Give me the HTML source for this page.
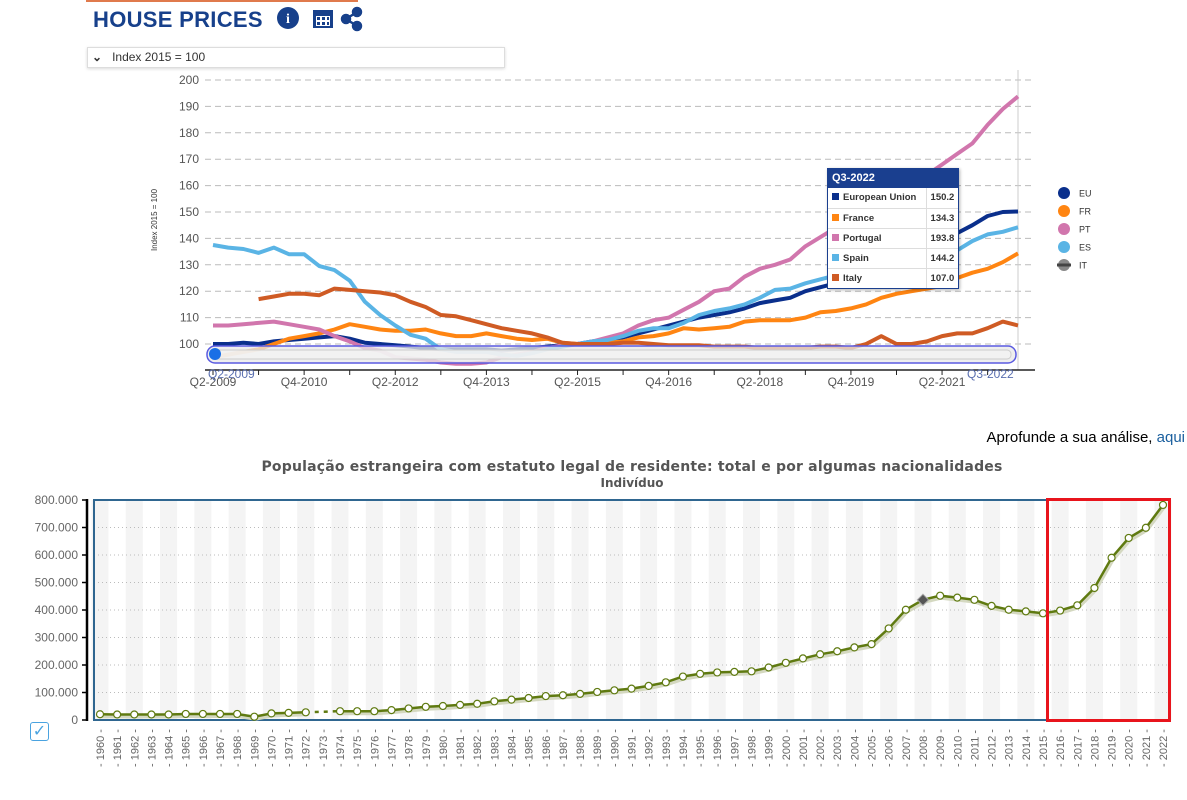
<!DOCTYPE html>
<html><head><meta charset="utf-8"><style>
body{margin:0;width:1187px;height:800px;background:#fff;overflow:hidden;font-family:"Liberation Sans",sans-serif;position:relative}
.abs{position:absolute}
</style></head><body>
<div class="abs" style="left:86px;top:0;width:272px;height:2px;background:#e07a4c"></div>
<div class="abs" style="left:93px;top:7px;font-size:22px;font-weight:bold;color:#17408b;letter-spacing:0.3px">HOUSE PRICES</div>
<svg class="abs" style="left:276px;top:6px" width="90" height="26">
 <g><circle cx="12" cy="12" r="11" fill="#17408b"/><text x="12" y="17" font-size="14" font-weight="bold" fill="#fff" text-anchor="middle" font-family="Liberation Serif">i</text></g>
 <g><rect x="37" y="4" width="20" height="18" fill="#17408b"/><rect x="40" y="10" width="14" height="10" fill="#fff"/><g fill="#17408b"><rect x="41" y="11" width="3" height="3"/><rect x="46" y="11" width="3" height="3"/><rect x="51" y="11" width="2" height="3"/><rect x="41" y="16" width="3" height="3"/><rect x="46" y="16" width="3" height="3"/><rect x="51" y="16" width="2" height="3"/></g></g>
 <g fill="#17408b" stroke="#17408b" stroke-width="2.5"><line x1="70" y1="13" x2="81" y2="6"/><line x1="70" y1="13" x2="81" y2="20"/><circle cx="70" cy="13" r="4"/><circle cx="81" cy="6" r="4"/><circle cx="81" cy="20" r="4"/></g>
</svg>
<div class="abs" style="left:87px;top:47px;width:416px;height:19px;border:1px solid #ddd;box-shadow:0 1px 3px rgba(0,0,0,.15);font-size:12px;color:#333;line-height:19px"><span style="margin-left:4px;font-weight:bold">⌄</span><span style="margin-left:10px">Index 2015 = 100</span></div>

<svg class="abs" id="topchart" style="left:0;top:0" width="1187" height="400"></svg>

<div class="abs" style="z-index:5;left:827px;top:168px;width:130px;border:1px solid #1a3f8f;background:#fff;font-size:10px;font-weight:bold;color:#333;box-shadow:1px 1px 3px rgba(0,0,0,.3)">
 <div style="background:#1a3f8f;color:#fff;height:19px;line-height:19px;padding-left:4px;font-size:11px">Q3-2022</div>
 <table style="border-collapse:collapse;width:100%;font-size:9.5px">
  <tr style="height:20px;border-bottom:1px solid #ddd"><td style="padding-left:4px"><span style="display:inline-block;width:7px;height:7px;background:#0a2f8c;margin-right:4px"></span>European Union</td><td style="border-left:1px solid #ddd;padding-left:4px">150.2</td></tr>
  <tr style="height:20px;border-bottom:1px solid #ddd"><td style="padding-left:4px"><span style="display:inline-block;width:7px;height:7px;background:#ff8512;margin-right:4px"></span>France</td><td style="border-left:1px solid #ddd;padding-left:4px">134.3</td></tr>
  <tr style="height:20px;border-bottom:1px solid #ddd"><td style="padding-left:4px"><span style="display:inline-block;width:7px;height:7px;background:#d176ad;margin-right:4px"></span>Portugal</td><td style="border-left:1px solid #ddd;padding-left:4px">193.8</td></tr>
  <tr style="height:20px;border-bottom:1px solid #ddd"><td style="padding-left:4px"><span style="display:inline-block;width:7px;height:7px;background:#5ab4e5;margin-right:4px"></span>Spain</td><td style="border-left:1px solid #ddd;padding-left:4px">144.2</td></tr>
  <tr style="height:20px"><td style="padding-left:4px"><span style="display:inline-block;width:7px;height:7px;background:#cf5b24;margin-right:4px"></span>Italy</td><td style="border-left:1px solid #ddd;padding-left:4px">107.0</td></tr>
 </table>
</div>

<div class="abs" style="right:2px;top:429px;font-size:15px;color:#000">Aprofunde a sua análise, <span style="color:#1a5f9e">aqui</span></div>
<div class="abs" style="left:0;width:1264px;top:459px;text-align:center;font-size:14px;font-weight:bold;color:#555;font-family:'DejaVu Sans',sans-serif;letter-spacing:0.2px">População estrangeira com estatuto legal de residente: total e por algumas nacionalidades</div>
<div class="abs" style="left:0;width:1264px;top:476px;text-align:center;font-size:12px;font-weight:bold;color:#555;font-family:'DejaVu Sans',sans-serif">Indivíduo</div>
<svg class="abs" id="botchart" style="left:0;top:0" width="1187" height="800"></svg>
<div class="abs" style="left:30px;top:722px;width:17px;height:17px;border:1.5px solid #4aa3e0;border-radius:3px;color:#4aa3e0;font-size:16px;line-height:17px;text-align:center">✓</div>

<script>
const NS='http://www.w3.org/2000/svg';
function mk(p,t,a){const e=document.createElementNS(NS,t);for(const k in a)e.setAttribute(k,a[k]);p.appendChild(e);return e;}

// ---- top chart data ----
const topYTicks=[100,110,120,130,140,150,160,170,180,190,200];
const topXLabels=['Q2-2009','Q4-2010','Q2-2012','Q4-2013','Q2-2015','Q4-2016','Q2-2018','Q4-2019','Q2-2021'];
const seriesEU=[100,100,100.5,100,101,101.5,102,102.5,103,102,100.5,100,99.5,99,98.5,98,98,98,98,97.5,98,98.5,99,99.5,100,101,101.5,102.5,104,105.5,107,108.5,110,111,112,113.5,115.5,116.5,117.5,120,121.5,123,124.5,126,128,130,133,136,139,142,145,148.5,150,150.2];
const seriesFR=[95,96,97,98,100,102,103,104,105.5,107.5,106.5,105.5,105,105,105.5,104,103,103,104,103,102,101.5,102,100.5,100,100.5,100.5,101,102.5,103,104,106,105.5,106,106.5,108.5,109,109,109,110,112,112.5,113.5,115,117.5,119,120,121,122,125,127,128.5,131,134.3];
const seriesPT=[107,107,107.5,108,108.5,107.5,106.5,105.5,103,101,98.5,97.5,95,94.5,94,93,92.5,92.5,93,95,96,97,98.5,99.5,100,101,102.5,104,107,109,110,113,116,120,121,125.5,128.5,130,132,137,140.5,144,147,150,153,157,160,164,168,172,176,183,189,193.8];
const seriesES=[137.5,136.5,136,134.5,136.5,134,134,129.5,128,124,116,111,107,103.5,102,98,97,97,97,96,95.5,96.5,98,99,100,101,101.5,103,105,106,106,108,111,112.5,113.5,115,117.5,120.5,121,123,124.5,126,127.5,128,129,130.5,131,132.5,134,135.5,139,141.5,142.5,144.2];
const seriesIT=[null,null,null,117,118,119,119,118.5,121,120.5,120,119.5,118.5,116,114,111,110.5,109,107.5,106,105,104,102.5,100.5,100,100,100,100.5,100.5,100,99.5,99.5,99.5,99,99,99,98.5,98.5,98.5,98.5,99,99,98.5,100,103,100,100,101,103,104,104,106,108.5,107];
const topSeries=[['eu',seriesEU,'#0a2f8c'],['fr',seriesFR,'#ff8512'],['pt',seriesPT,'#d176ad'],['es',seriesES,'#5ab4e5'],['it',seriesIT,'#cf5b24']];
const legendNames=['EU','FR','PT','ES','IT'];

const topSvg=document.getElementById('topchart');
const tx=i=>213+i*(1018-213)/53;
const ty=v=>344-(v-100)*2.64;
mk(topSvg,'text',{x:157,y:220,transform:'rotate(-90 157 220)','font-size':8,fill:'#333','text-anchor':'middle'}).textContent='Index 2015 = 100';
topYTicks.forEach(v=>{
 const g=mk(topSvg,'line',{x1:205,x2:1035,y1:ty(v),y2:ty(v),stroke:'#bbb','stroke-dasharray':'6,4'});
 
 
 const t=mk(topSvg,'text',{x:199,y:ty(v)+4,'font-size':12,fill:'#555','text-anchor':'end'});
 t.textContent=v;
 
 
});
mk(topSvg,'line',{x1:1018,x2:1018,y1:70,y2:370,stroke:'#ccc'});
mk(topSvg,'line',{x1:205,x2:1035,y1:370,y2:370,stroke:'#222','stroke-width':1.5});
for(let i=0;i<54;i+=3){mk(topSvg,'line',{x1:tx(i),x2:tx(i),y1:370,y2:375,stroke:'#222'});}
topXLabels.forEach((l,k)=>{
 const t=mk(topSvg,'text',{x:tx(k*6),y:386,'font-size':12,fill:'#555','text-anchor':'middle'});
 t.textContent=l;
 
 
});
topSeries.forEach(([n,d,c])=>{
 let p='';let pen=false;
 d.forEach((v,i)=>{if(v==null){pen=false;return;}p+=(pen?'L':'M')+tx(i).toFixed(1)+','+ty(v).toFixed(1);pen=true;});
 const e=mk(topSvg,'path',{d:p,fill:'none',stroke:c,'stroke-width':4,'stroke-linejoin':'round'});
 
 
});
const sb=mk(topSvg,'rect',{x:207,y:346,width:809,height:17,rx:8,fill:'#e8e8e8','fill-opacity':0.75,stroke:'#5a5ae0','stroke-width':1.5});


mk(topSvg,'rect',{x:212,y:350,width:799,height:9,rx:4,fill:'#f2f2f2','fill-opacity':0.8,stroke:'#ccc'});
const hd=mk(topSvg,'circle',{cx:215,cy:354,r:6,fill:'#1a6fe6'});


mk(topSvg,'text',{x:208,y:378,'font-size':12,fill:'#5a6fb0'}).textContent='Q2-2009';
mk(topSvg,'text',{x:967,y:378,'font-size':12,fill:'#5a6fb0'}).textContent='Q3-2022';
topSeries.forEach(([n,d,c],k)=>{
 const y=193+k*18;
 const g=mk(topSvg,'g',{});
 
 
 if(n==='it'){mk(g,'circle',{cx:1064,cy:y,r:6,fill:'#888'});mk(g,'rect',{x:1057,y:y-1.5,width:14,height:3,fill:'#444'});}
 else mk(g,'circle',{cx:1064,cy:y,r:6,fill:c});
 mk(g,'text',{x:1079,y:y+3.5,'font-size':9,fill:'#333'}).textContent=legendNames[k];
});

// ---- bottom chart data ----
const years=[];for(let y=1960;y<=2022;y++)years.push(y);
const population=[21000,20000,20000,20000,20000,22000,22000,22000,22000,12000,24000,26000,28000,null,32000,32000,32000,36000,42000,48000,51000,55000,59000,68000,74000,80000,87000,90000,95000,102000,108000,114000,124000,137000,158000,168000,173000,175000,177000,191000,208000,224000,239000,250000,264000,276000,333000,401000,437000,452000,445000,437000,415000,401000,395000,388000,398000,417000,480000,590000,662000,699000,782000];
const botYTicks=[0,100000,200000,300000,400000,500000,600000,700000,800000];
const botSvg=document.getElementById('botchart');
const bx=i=>100+i*(1163-100)/62;
const by=v=>720-v*220/800000;
years.forEach((y,i)=>{if(i%2===0){mk(botSvg,'rect',{x:bx(i)-8.5,y:500,width:17,height:220,fill:'#f4f4f4'});}});
botYTicks.forEach(v=>{
 if(v>0&&v<800000)mk(botSvg,'line',{x1:94,x2:1170,y1:by(v),y2:by(v),stroke:'#bbb','stroke-dasharray':'1,3'});
 mk(botSvg,'line',{x1:82,x2:87,y1:by(v),y2:by(v),stroke:'#000','stroke-width':1.5});
 const t=mk(botSvg,'text',{x:78,y:by(v)+4,'font-size':12,fill:'#666','text-anchor':'end'});
 t.textContent=v===0?'0':(v/1000).toFixed(0)+'.000';
 
 
});
mk(botSvg,'line',{x1:87,x2:87,y1:499,y2:721,stroke:'#000','stroke-width':2.5});
mk(botSvg,'rect',{x:94,y:500,width:1076,height:220,fill:'none',stroke:'#2f6690','stroke-width':2});
years.forEach((y,i)=>{
 const t=mk(botSvg,'text',{x:0,y:0,'font-size':11,fill:'#666',transform:`translate(${bx(i)+4},767) rotate(-90)`});
 t.textContent='- '+y+' -';
 
 
});
let segs=[],cur='';
population.forEach((v,i)=>{if(v==null){segs.push(cur);cur='';return;}cur+=(cur?'L':'M')+bx(i).toFixed(1)+','+by(v).toFixed(1);});
segs.push(cur);
segs.forEach(s=>{
 mk(botSvg,'path',{d:s,fill:'none',stroke:'#d4d8c0','stroke-width':4,transform:'translate(1,2)'});
 const e=mk(botSvg,'path',{d:s,fill:'none',stroke:'#5f7a10','stroke-width':2.5});
 
 
});
const gi=population.indexOf(null);
mk(botSvg,'line',{x1:bx(gi-1),y1:by(population[gi-1]),x2:bx(gi+1),y2:by(population[gi+1]),stroke:'#5f7a10','stroke-width':2.5,'stroke-dasharray':'4,5'});
population.forEach((v,i)=>{
 if(v==null)return;
 let e;
 if(years[i]===2008){e=mk(botSvg,'rect',{x:bx(i)-4,y:by(v)-4,width:8,height:8,fill:'#555',stroke:'#aaa',transform:`rotate(45 ${bx(i)} ${by(v)})`});}
 else e=mk(botSvg,'circle',{cx:bx(i),cy:by(v),r:3.5,fill:'#fff',stroke:'#5f7a10','stroke-width':1.2});
 
 
});
const hl=mk(botSvg,'rect',{x:1047.5,y:499.5,width:122,height:221,fill:'none',stroke:'#e8141c','stroke-width':3});


</script>
</body></html>
